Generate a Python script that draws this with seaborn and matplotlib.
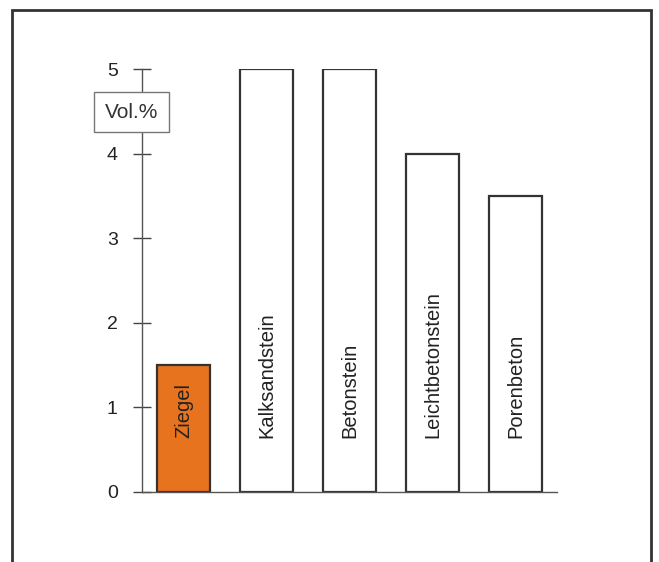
import matplotlib
matplotlib.use('Agg')
import matplotlib.pyplot as plt
from matplotlib.patches import Rectangle
import seaborn as sns

# Daten
materials = ['Ziegel', 'Kalksandstein', 'Betonstein', 'Leichtbetonstein', 'Porenbeton']
values = [1.5, 5.0, 5.0, 4.0, 3.5]
bar_colors = ['#E8731E', 'white', 'white', 'white', 'white']
y_ticks = [0, 1, 2, 3, 4, 5]
unit_label = 'Vol.%'

sns.set_theme(style='white')
plt.rcParams['font.family'] = ['Liberation Sans', 'DejaVu Sans']

fig = plt.figure(figsize=(6.59, 5.62), dpi=100)
ax = fig.add_axes([0.2155, 0.1246, 0.6297, 0.7526])

sns.barplot(x=materials, y=values, hue=materials, palette=bar_colors,
            width=0.65, edgecolor='#333333', linewidth=1.6, saturation=1,
            legend=False, ax=ax)

ax.set_xlim(-0.5, 4.5)
ax.set_ylim(0, 5)
ax.set_yticks(y_ticks)
ax.set_xticks([])
ax.set_xlabel('')
ax.set_ylabel('')
ax.tick_params(axis='y', direction='inout', length=13, width=1, color='#444444',
               pad=11, labelsize=14, labelcolor='#222222', left=True)
for side in ['top', 'right']:
    ax.spines[side].set_visible(False)
for side in ['left', 'bottom']:
    ax.spines[side].set_color('#555555')
    ax.spines[side].set_linewidth(1)

# Beschriftung in den Balken
for i, name in enumerate(materials):
    ax.text(i, 0.64, name, rotation=90, ha='center', va='bottom',
            fontsize=14.5, color='#222222')

# Einheit im Kasten
ax.text(-0.627, 4.49, unit_label, ha='center', va='center', fontsize=15,
        color='#333333', zorder=10, clip_on=False,
        bbox=dict(boxstyle='square,pad=0.5', fc='white', ec='#777777', lw=1))

# Rahmen
fig.patches.append(Rectangle((12 / 659, -0.1), 639 / 659, 1.1 - 10 / 562,
                             transform=fig.transFigure, fill=False,
                             ec='#333333', lw=2))

plt.savefig('out.png', dpi=100, facecolor='white')
plt.close()
